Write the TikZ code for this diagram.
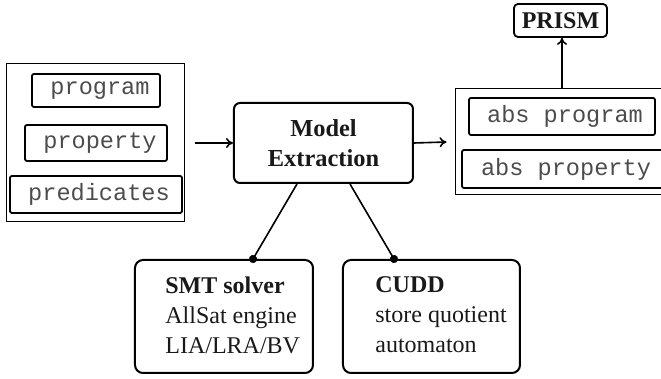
\documentclass[tikz,border=0pt]{standalone}
\usepackage{fontspec}
\setmainfont{Liberation Serif}
\setmonofont{Liberation Mono}
\usetikzlibrary{arrows.meta}
\begin{document}
\begin{tikzpicture}[x=0.5pt,y=-0.5pt,
  outer/.style={draw, line width=0.5pt, inner sep=0pt},
  mono/.style={draw, line width=0.9pt, rounded corners=1pt, inner sep=0pt,
    font=\fontsize{11.8}{14}\ttfamily, text=black!70},
  rbox/.style={draw, line width=1pt, inner sep=0pt},
  conn/.style={line width=0.8pt},
  arr/.style={conn, -{To[length=3.5pt,width=5pt]}},
  dotline/.style={conn, -{Circle[length=4pt]}, shorten >=-2pt},
  btext/.style={anchor=north west, inner sep=0pt, align=left, font=\fontsize{12}{15}\selectfont, text=black!90}
]
\useasboundingbox (0,0) rectangle (661,379);
\clip (0,0) rectangle (661,379);

% left input box
\node[outer, minimum width=89pt, minimum height=79pt] (in) at (96,143) {};
\node[mono, minimum width=64pt, minimum height=16.5pt] (prog) at (96,90.5) {\hspace*{4pt}program};
\node[mono, minimum width=71pt, minimum height=18pt] (prop) at (96,143) {\hspace*{4pt}property};
\node[mono, minimum width=86pt, minimum height=18.5pt] (pred) at (96,194.5) {\hspace*{3pt}predicates};

% model extraction
\node[rbox, rounded corners=3pt, minimum width=89.5pt, minimum height=40pt, align=center,
  font=\fontsize{12.2}{15}\selectfont\bfseries, text=black!90] (model) at (323.5,143) {Model\\Extraction};

% right output box
\node[outer, minimum width=107pt, minimum height=53pt] (out) at (563,142) {};
\node[mono, minimum width=93pt, minimum height=18.5pt] (absprog) at (562,116.5) {\hspace*{3pt}abs program};
\node[mono, minimum width=101pt, minimum height=19pt] (absprop) at (563,169) {\hspace*{3pt}abs property};

% PRISM
\node[rbox, line width=0.9pt, rounded corners=2pt, minimum width=46.5pt, minimum height=16.5pt,
  font=\fontsize{12}{14}\selectfont\bfseries, text=black!90] (prism) at (560.5,20.5) {PRISM};

% bottom boxes
\node[rbox, rounded corners=4pt, minimum width=89pt, minimum height=56.5pt] (smt) at (224,316.5) {};
\node[btext] (smttext) at (165,276) {\textbf{SMT solver}\\AllSat engine\\LIA/LRA/BV};
\node[rbox, rounded corners=4pt, minimum width=88.5pt, minimum height=56.5pt] (cudd) at (431.5,316.5) {};
\node[btext] (cuddtext) at (375,276) {\textbf{CUDD}\\store quotient\\automaton};

% connectors
\draw[arr] ([xshift=5pt]in.east) -- (model.west);
\draw[arr] (model.east) -- ([xshift=-4.5pt]out.west);
\draw[arr] ([xshift=0.75pt]prism.south |- out.north) -- ([xshift=0.75pt]prism.south);
\draw[dotline] ([xshift=-13.25pt]model.south) -- ([xshift=14.5pt]smt.north);
\draw[dotline] ([xshift=13.25pt]model.south) -- ([xshift=-18.75pt]cudd.north);
\end{tikzpicture}
\end{document}
